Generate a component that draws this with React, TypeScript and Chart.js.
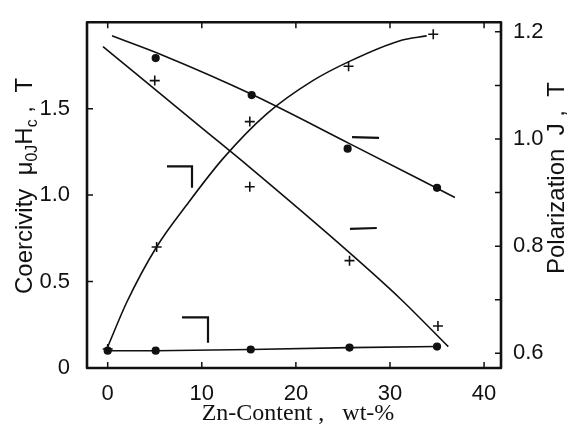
import React, { useEffect, useRef } from "react";
import { Chart, registerables } from "chart.js";
Chart.register(...registerables);

// tick labels
const xTicks = [0, 10, 20, 30, 40];
const hcTicks = [0, 0.5, 1.0, 1.5];
const jTicks = [0.6, 0.8, 1.0, 1.2];
const jMinorTicks = [0.7, 0.9, 1.1];

// measured points: coercivity (left axis)
const hcPlusZn = [0, 5.2, 15.1, 25.6, 34.6];
const hcPlus = [0.11, 0.7, 1.425, 1.745, 1.93];
const hcDotZn = [0, 5.1, 15.2, 25.7, 35.0];
const hcDot = [0.1, 0.1, 0.107, 0.118, 0.124];

// measured points: polarization (right axis)
const jDotZn = [5.1, 15.3, 25.5, 35.0];
const jDot = [1.151, 1.082, 0.982, 0.909];
const jPlusZn = [5.0, 15.1, 25.7, 35.1];
const jPlus = [1.109, 0.911, 0.773, 0.651];

// fitted curves
const hcPlusFitZn = [-0.07, 2.05, 5.24, 8.43, 12.25, 16.9, 21.8, 25.75, 31.06, 33.9];
const hcPlusFit = [0.113, 0.383, 0.704, 0.946, 1.211, 1.47, 1.662, 1.775, 1.893, 1.921];
const jDotFitZn = [0.46, 5.9, 15.3, 25.75, 36.9];
const jDotFit = [1.1925, 1.156, 1.0835, 0.991, 0.891];
const jPlusFitZn = [-0.5, 9.8, 15.1, 25.75, 31.1, 36.2];
const jPlusFit = [1.1725, 1.0235, 0.947, 0.787, 0.702, 0.6125];

// axis-assignment flags
const hcFlagAZn = [6.3, 8.96, 8.96];
const hcFlagA = [1.166, 1.166, 1.042];
const hcFlagBZn = [7.9, 10.66, 10.66];
const hcFlagB = [0.293, 0.293, 0.146];
const jFlagAZn = [25.97, 28.84];
const jFlagA = [1.0035, 1.002];
const jFlagBZn = [25.75, 28.6];
const jFlagB = [0.8325, 0.834];

const pts = (xs: number[], ys: number[]) => xs.map((x, i) => ({ x, y: ys[i] }));

const INK = "#111";
const SANS = "'Liberation Sans', Arial, sans-serif";
const SERIF = "'Liberation Serif', 'Times New Roman', serif";

type Part = { t: string; sub?: boolean };

function drawRich(ctx: CanvasRenderingContext2D, parts: Part[], cx: number, cy: number, rot: number, size: number, family: string) {
  ctx.save();
  ctx.translate(cx, cy);
  ctx.rotate(rot);
  ctx.fillStyle = INK;
  ctx.textBaseline = "alphabetic";
  ctx.textAlign = "left";
  const mainF = `${size}px ${family}`;
  const subF = `${Math.round(size * 0.68)}px ${family}`;
  let total = 0;
  for (const p of parts) {
    ctx.font = p.sub ? subF : mainF;
    total += ctx.measureText(p.t).width;
  }
  let x = -total / 2;
  const base = size * 0.36;
  for (const p of parts) {
    ctx.font = p.sub ? subF : mainF;
    ctx.fillText(p.t, x, p.sub ? base + size * 0.22 : base);
    x += ctx.measureText(p.t).width;
  }
  ctx.restore();
}

const framePlugin = {
  id: "frameAndTitles",
  afterDatasetsDraw(chart: any) {
    const { ctx, chartArea: a, scales } = chart;
    ctx.save();
    ctx.strokeStyle = INK;
    ctx.lineWidth = 1.5;
    const tl = 6;
    ctx.beginPath();
    for (const v of xTicks) {
      const px = scales.x.getPixelForValue(v);
      ctx.moveTo(px, a.bottom);
      ctx.lineTo(px, a.bottom - tl);
      ctx.moveTo(px, a.top);
      ctx.lineTo(px, a.top + tl);
    }
    for (const v of hcTicks) {
      const py = scales.y.getPixelForValue(v);
      ctx.moveTo(a.left, py);
      ctx.lineTo(a.left + tl, py);
    }
    for (const v of [...jTicks, ...jMinorTicks]) {
      const py = scales.y2.getPixelForValue(v);
      ctx.moveTo(a.right, py);
      ctx.lineTo(a.right - tl, py);
    }
    ctx.stroke();
    ctx.lineWidth = 2.6;
    ctx.lineJoin = "round";
    ctx.strokeRect(a.left, a.top, a.right - a.left, a.bottom - a.top);
    ctx.restore();
  },
  afterDraw(chart: any) {
    const { ctx } = chart;
    drawRich(
      ctx,
      [{ t: "Coercivity  \u03bc" }, { t: "0J", sub: true }, { t: "H" }, { t: "c", sub: true }, { t: " ,  T" }],
      23, 186, -Math.PI / 2, 24, SANS
    );
    drawRich(ctx, [{ t: "Polarization  J ,  T" }], 555, 178, -Math.PI / 2, 24, SANS);
    drawRich(ctx, [{ t: "Zn-Content ,   wt-%" }], 298, 411, 0, 24, SERIF);
  },
};

export default function App() {
  const ref = useRef<HTMLCanvasElement | null>(null);
  useEffect(() => {
    if (!ref.current) return;
    const fitLine = (data: any[], axis: string, mode: "mono" | "straight" = "mono") => ({
      data,
      yAxisID: axis,
      showLine: true,
      borderColor: INK,
      borderWidth: 1.6,
      pointRadius: 0,
      fill: false,
      tension: 0,
      cubicInterpolationMode: mode === "mono" ? "monotone" : "default",
    });
    const flag = (data: any[], axis: string) => ({
      data,
      yAxisID: axis,
      showLine: true,
      borderColor: INK,
      borderWidth: 2.2,
      pointRadius: 0,
      tension: 0,
      fill: false,
    });
    const marks = (data: any[], axis: string, style: "circle" | "cross") => ({
      data,
      yAxisID: axis,
      showLine: false,
      pointStyle: style,
      pointRadius: style === "circle" ? 3.3 : 5,
      pointBorderWidth: 1.6,
      pointBackgroundColor: INK,
      pointBorderColor: INK,
    });
    const tickFont = { family: SANS, size: 22 };
    const chart = new Chart(ref.current, {
      type: "scatter",
      data: {
        datasets: [
          fitLine(pts(hcPlusFitZn, hcPlusFit), "y"),
          fitLine(pts(hcDotZn, hcDot), "y", "straight"),
          fitLine(pts(jDotFitZn, jDotFit), "y2"),
          fitLine(pts(jPlusFitZn, jPlusFit), "y2"),
          marks(pts(hcPlusZn, hcPlus), "y", "cross"),
          marks(pts(hcDotZn, hcDot), "y", "circle"),
          marks(pts(jDotZn, jDot), "y2", "circle"),
          marks(pts(jPlusZn, jPlus), "y2", "cross"),
          flag(pts(hcFlagAZn, hcFlagA), "y"),
          flag(pts(hcFlagBZn, hcFlagB), "y"),
          flag(pts(jFlagAZn, jFlagA), "y2"),
          flag(pts(jFlagBZn, jFlagB), "y2"),
        ] as any,
      },
      options: {
        animation: false,
        responsive: false,
        maintainAspectRatio: false,
        layout: { padding: { top: 13, left: 0, right: 0, bottom: 0 } },
        plugins: { legend: { display: false }, tooltip: { enabled: false }, title: { display: false } },
        scales: {
          x: {
            type: "linear",
            position: "bottom",
            min: -2.2,
            max: 41.8,
            grid: { display: false },
            border: { display: false },
            afterBuildTicks: (s: any) => {
              s.ticks = xTicks.map((v) => ({ value: v }));
            },
            afterFit: (s: any) => {
              s.height = 69;
            },
            ticks: { color: INK, font: tickFont, padding: 5, maxRotation: 0, callback: (v: any) => String(v) },
          },
          y: {
            type: "linear",
            position: "left",
            min: 0,
            max: 2.0,
            grid: { display: false },
            border: { display: false },
            afterBuildTicks: (s: any) => {
              s.ticks = hcTicks.map((v) => ({ value: v }));
            },
            afterFit: (s: any) => {
              s.width = 87;
            },
            ticks: {
              color: INK,
              font: tickFont,
              padding: 9,
              callback: (v: any) => (Number(v) === 0 ? "0" : Number(v).toFixed(1)),
            },
          },
          y2: {
            type: "linear",
            position: "right",
            min: 0.5727,
            max: 1.218,
            grid: { display: false },
            border: { display: false },
            afterBuildTicks: (s: any) => {
              s.ticks = jTicks.map((v) => ({ value: v }));
            },
            afterFit: (s: any) => {
              s.width = 76;
            },
            ticks: {
              color: INK,
              font: tickFont,
              padding: 4,
              callback: (v: any) => Number(v).toFixed(1),
            },
          },
        },
      } as any,
      plugins: [framePlugin],
    });
    return () => chart.destroy();
  }, []);
  return (
    <canvas
      ref={ref}
      width={577}
      height={437}
      style={{ position: "fixed", left: 0, top: 0, width: 577, height: 437, display: "block", background: "#fff" }}
    />
  );
}
